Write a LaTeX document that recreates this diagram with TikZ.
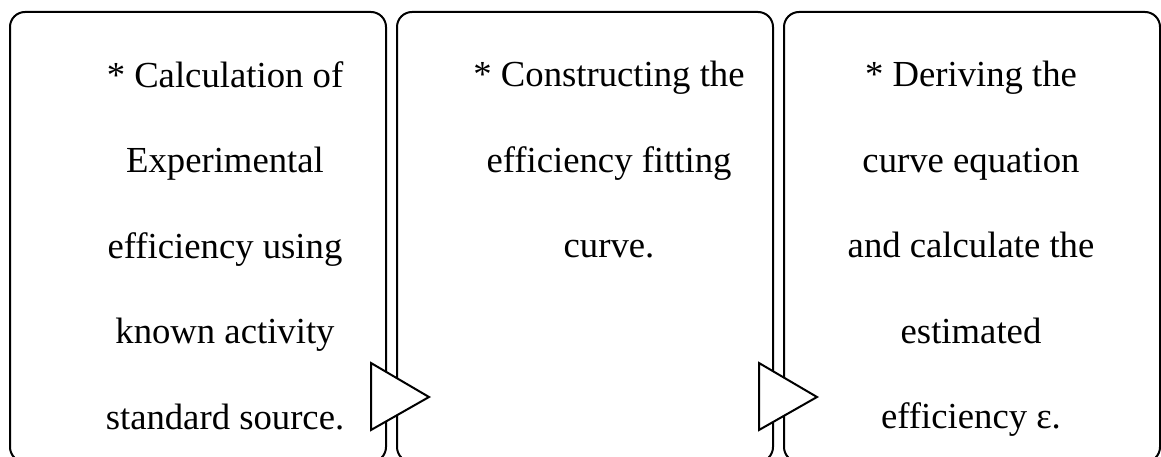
\documentclass[tikz,border=0pt]{standalone}
\usepackage{fontspec}
\setmainfont{Liberation Serif}
\usetikzlibrary{positioning,calc}

\begin{document}
\begin{tikzpicture}[x=1pt, y=-1pt,
  stepbox/.style={draw, line width=2pt, rounded corners=15pt, minimum width=376pt, minimum height=450pt, inner sep=0pt, anchor=north west},
  steptext/.style={align=center, anchor=north, inner sep=0pt, font=\fontsize{36.7}{85.5}\selectfont},
  flowtri/.style={draw, line width=2pt, fill=white, line join=miter}]
\useasboundingbox (0,0) rectangle (1161,457);
\clip (0,0) rectangle (1161,457);
% three step boxes
\node[stepbox](calcbox) at (9,11) {};
\node[stepbox,right=9pt of calcbox](curvebox){};
\node[stepbox,right=9pt of curvebox](eqbox){};
% texts
\node[steptext](calctext) at (225,61) {* Calculation of\\Experimental\\efficiency using\\known activity\\standard source.};
\node[steptext](curvetext) at (609,61) {* Constructing the\\efficiency fitting\\curve.};
\node[steptext](eqtext) at (971,61) {* Deriving the\\curve equation\\and calculate the\\estimated\\efficiency ε.};
% flow triangles
\coordinate (tipA) at (429,397);
\coordinate (tipB) at (817,397);
\draw[flowtri] (tipA) -- ++(-58,-34) -- ++(0,67) -- cycle;
\draw[flowtri] (tipB) -- ++(-58,-34) -- ++(0,67) -- cycle;
\end{tikzpicture}
\end{document}
